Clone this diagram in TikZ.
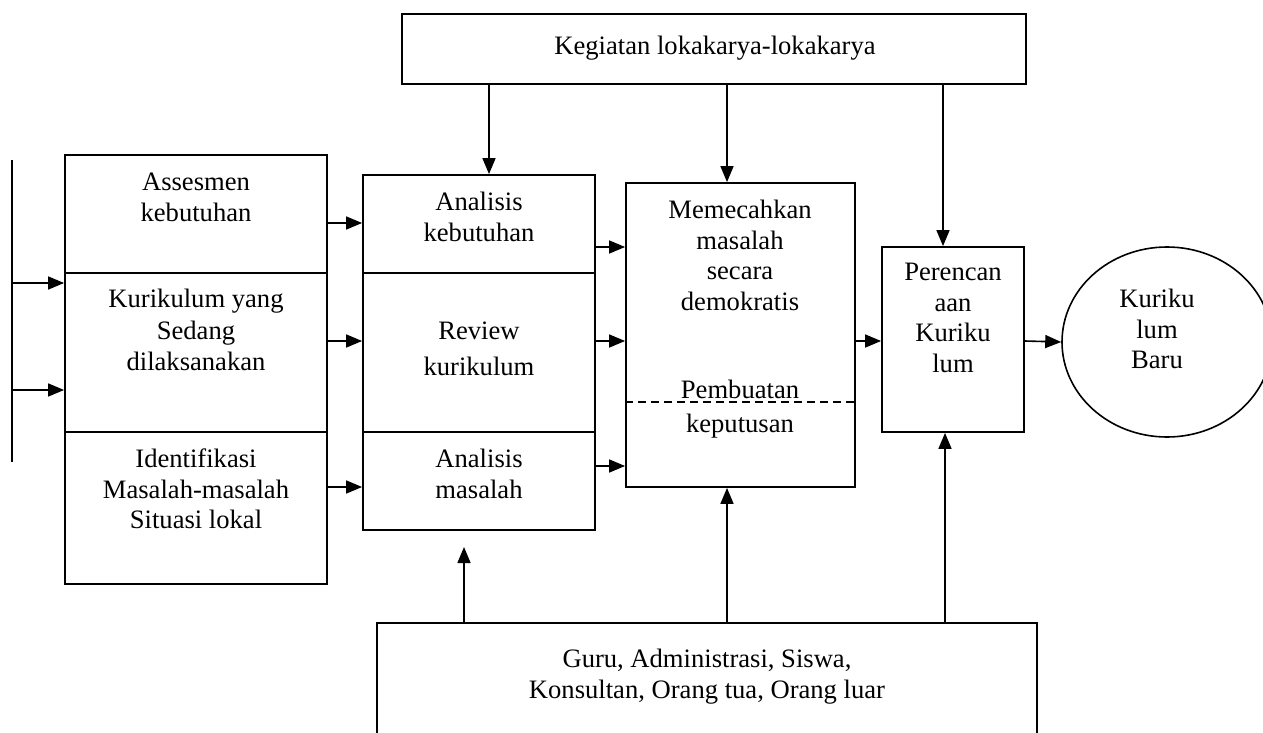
\documentclass[tikz,border=0pt]{standalone}
\usepackage{fontspec}
\setmainfont{Liberation Serif}
\usetikzlibrary{fit,shapes.geometric,arrows.meta}
\newcommand{\dfs}{\fontsize{13.3}{15.3}\selectfont}
\tikzset{
  boxx/.style={draw, line width=0.9pt, inner sep=0pt},
  txt/.style={align=center, inner sep=0pt, anchor=north, font=\dfs},
  arr/.style={line width=0.8pt, -{Triangle[length=8pt,width=6.5pt]}},
  ln/.style={line width=0.8pt}
}
\begin{document}
\begin{tikzpicture}[x=0.5pt,y=-0.5pt]
\useasboundingbox (0,0) rectangle (1263,733);
\clip (0,0) rectangle (1263,733);
% boxes
\node[boxx, fit={(402,14)(1026,84)}] (top) {};
\node[boxx, fit={(65,155)(327,273)}] (lc1) {};
\node[boxx, fit={(65,273)(327,432)}] (lc2) {};
\node[boxx, fit={(65,432)(327,584)}] (lc3) {};
\node[boxx, fit={(363,175)(595,273)}] (m1) {};
\node[boxx, fit={(363,273)(595,432)}] (m2) {};
\node[boxx, fit={(363,432)(595,530)}] (m3) {};
\node[boxx, fit={(626,183)(855,487)}] (cen) {};
\node[boxx, fit={(882,247)(1024,432)}] (rb) {};
\node[boxx, fit={(377,623)(1037,800)}] (bot) {};
\node[draw, line width=0.8pt, ellipse, inner sep=0pt, minimum width=105pt, minimum height=95pt] (cir) at (1167,342) {};
% texts
\node[txt] (ttop) at (715,32.6) {\strut Kegiatan lokakarya-lokakarya};
\node[txt] (tlc1) at (196,168.6) {\strut Assesmen\\kebutuhan};
\node[txt] (tlc2) at (196,285.6) {\strut Kurikulum yang\\[0.5pt]Sedang\\[0.5pt]dilaksanakan};
\node[txt] (tlc3) at (196,445.6) {\strut Identifikasi\\Masalah-masalah\\Situasi lokal};
\node[txt] (tm1) at (479,188.6) {\strut Analisis\\kebutuhan};
\node[txt] (tm2) at (479,317.6) {\strut Review\\[2.5pt]kurikulum};
\node[txt] (tm3) at (479,445.6) {\strut Analisis\\masalah};
\node[txt] (tcen1) at (740,196.6) {\strut Memecahkan\\masalah\\secara\\demokratis};
\node[txt] (tcen2) at (740,376.6) {\strut Pembuatan\\[1.5pt]keputusan};
\node[txt] (trb) at (953,258.6) {\strut Perencan\\aan\\Kuriku\\lum};
\node[txt] (tcir) at (1157,285.6) {\strut Kuriku\\lum\\Baru};
\node[txt] (tbot) at (707,645.6) {\strut Guru, Administrasi, Siswa,\\Konsultan, Orang tua, Orang luar};
% dashed divider
\draw[ln, dash pattern=on 4pt off 2.5pt] (cen.west |- 0,402) -- (cen.east |- 0,402);
% left vertical line
\coordinate (lt) at (12,160);
\coordinate (lb) at (12,462);
\draw[ln] (lt) -- (lb);
\draw[arr] (lt |- 0,283) -- (lc2.west |- 0,283);
\draw[arr] (lt |- 0,390) -- (lc2.west |- 0,390);
% left column -> middle
\draw[arr] (lc1.east |- 0,223) -- (m1.west |- 0,223);
\draw[arr] (lc2.east |- 0,341) -- (m2.west |- 0,341);
\draw[arr] (lc3.east |- 0,487) -- (m3.west |- 0,487);
% middle -> center
\draw[arr] (m1.east |- 0,247) -- (cen.west |- 0,247);
\draw[arr] (m2.east |- 0,341) -- (cen.west |- 0,341);
\draw[arr] (m3.east |- 0,466) -- (cen.west |- 0,466);
% center -> right -> circle
\draw[arr] (cen.east |- 0,341) -- (rb.west |- 0,341);
\draw[arr] (rb.east |- 0,341) -- (cir.west);
% top arrows
\draw[arr] (top.south -| 489,0) -- (m1.north -| 489,0);
\draw[arr] (top.south -| 727,0) -- (cen.north -| 727,0);
\draw[arr] (top.south -| 943,0) -- (rb.north -| 943,0);
% bottom arrows
\coordinate (ma) at (464,547);
\draw[arr] (bot.north -| ma) -- (ma);
\draw[arr] (bot.north -| 727,0) -- (cen.south -| 727,0);
\draw[arr] (bot.north -| 945,0) -- (rb.south -| 945,0);
\end{tikzpicture}
\end{document}
